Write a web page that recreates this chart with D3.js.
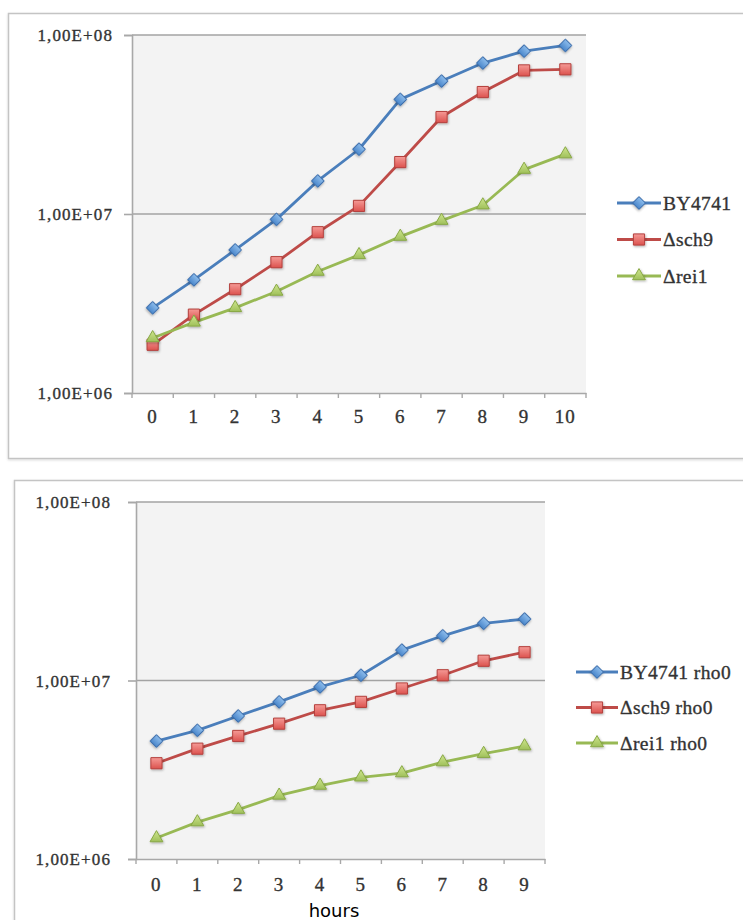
<!DOCTYPE html>
<html>
<head>
<meta charset="utf-8">
<script src="https://cdn.jsdelivr.net/npm/d3@7/dist/d3.min.js"></script>
<style>
  html, body { margin: 0; padding: 0; background: #ffffff; }
  svg { display: block; }
</style>
</head>
<body>
<svg id="chart" width="743" height="920"></svg>
<script>
// Time points (hours)
const hoursTop = ["0", "1", "2", "3", "4", "5", "6", "7", "8", "9", "10"];
const hoursBottom = ["0", "1", "2", "3", "4", "5", "6", "7", "8", "9"];

// Cell counts, wild type and deletion strains
const by4741 = [2.99e6, 4.29e6, 6.30e6, 9.33e6, 1.53e7, 2.30e7, 4.37e7, 5.53e7, 6.97e7, 8.12e7, 8.74e7];
const sch9 = [1.86e6, 2.74e6, 3.80e6, 5.38e6, 7.91e6, 1.11e7, 1.95e7, 3.48e7, 4.80e7, 6.34e7, 6.43e7];
const rei1 = [2.03e6, 2.48e6, 2.99e6, 3.69e6, 4.77e6, 5.91e6, 7.48e6, 9.18e6, 1.12e7, 1.77e7, 2.16e7];

// Cell counts, rho0 strains
const by4741Rho0 = [4.58e6, 5.26e6, 6.33e6, 7.59e6, 9.21e6, 1.07e7, 1.48e7, 1.78e7, 2.09e7, 2.21e7];
const sch9Rho0 = [3.44e6, 4.15e6, 4.89e6, 5.73e6, 6.81e6, 7.59e6, 9.02e6, 1.07e7, 1.29e7, 1.44e7];
const rei1Rho0 = [1.31e6, 1.61e6, 1.89e6, 2.27e6, 2.58e6, 2.87e6, 3.03e6, 3.49e6, 3.89e6, 4.29e6];

// Legend names
const namesTop = ["BY4741", "\u0394sch9", "\u0394rei1"];
const namesBottom = ["BY4741 rho0", "\u0394sch9 rho0", "\u0394rei1 rho0"];

// Y axis ticks
const yTickValues = [1e6, 1e7, 1e8];
const yTickLabels = ["1,00E+06", "1,00E+07", "1,00E+08"];

const xTitle = "hours";

const serif = "'Liberation Serif', 'Times New Roman', Times, serif";

// Series appearance
const styles = [
  { line: "#4a7ebb", stroke: "#3a6cab", light: "#8cbcec", dark: "#4b87cb", symbol: d3.symbolSquare, size: 80, rotate: 45, id: "blue" },
  { line: "#be4b48", stroke: "#b4403d", light: "#f59a96", dark: "#dc524e", symbol: d3.symbolSquare, size: 125, rotate: 0, id: "red" },
  { line: "#98b954", stroke: "#88a845", light: "#cfe68e", dark: "#9fc05a", symbol: d3.symbolTriangle, size: 72, rotate: 0, id: "green" }
];

const svg = d3.select("#chart");
const defs = svg.append("defs");

styles.forEach(s => {
  const g = defs.append("linearGradient")
    .attr("id", "grad-" + s.id).attr("x1", 0).attr("y1", 0).attr("x2", 0).attr("y2", 1);
  g.append("stop").attr("offset", "0%").attr("stop-color", s.light);
  g.append("stop").attr("offset", "100%").attr("stop-color", s.dark);
});

const shadow = defs.append("filter").attr("id", "shadow")
  .attr("x", "-50%").attr("y", "-50%").attr("width", "200%").attr("height", "200%");
shadow.append("feDropShadow").attr("dx", 0.8).attr("dy", 1.2).attr("stdDeviation", 1)
  .attr("flood-color", "#000").attr("flood-opacity", 0.3);

const frameShadow = defs.append("filter").attr("id", "frameShadow")
  .attr("x", "-5%").attr("y", "-5%").attr("width", "110%").attr("height", "110%");
frameShadow.append("feDropShadow").attr("dx", 0).attr("dy", 1).attr("stdDeviation", 1)
  .attr("flood-color", "#000").attr("flood-opacity", 0.15);

// serif label styling shared by ticks and legend
function serifText(sel, size, spacing) {
  sel.style("font-family", serif)
    .style("font-size", size + "px")
    .style("letter-spacing", spacing + "px")
    .style("fill", "#333333")
    .style("stroke", "#333333")
    .style("stroke-width", "0.35px");
}

function drawChart(cfg) {
  const g = svg.append("g");

  // outer chart frame
  g.append("rect")
    .attr("x", cfg.frame.x).attr("y", cfg.frame.y)
    .attr("width", cfg.frame.w).attr("height", cfg.frame.h)
    .attr("fill", "#ffffff").attr("stroke", "#c4c4c4").attr("stroke-width", 1.5)
    .attr("filter", "url(#frameShadow)");

  const x = d3.scaleBand().domain(cfg.categories).range([cfg.left, cfg.right]);
  const y = d3.scaleLog().domain([1e6, 1e8]).range([cfg.bottom, cfg.top]);

  // plot area
  g.append("rect")
    .attr("x", cfg.left).attr("y", cfg.top)
    .attr("width", cfg.right - cfg.left).attr("height", cfg.bottom - cfg.top)
    .attr("fill", "#f3f3f3");

  // horizontal gridlines
  g.append("g").selectAll("line")
    .data(yTickValues.filter(v => v > 1e6))
    .join("line")
    .attr("x1", cfg.left).attr("x2", cfg.right)
    .attr("y1", d => y(d)).attr("y2", d => y(d))
    .attr("stroke", "#a3a3a3").attr("stroke-width", 1.6);

  // y axis
  const yAxis = g.append("g")
    .attr("transform", `translate(${cfg.left},0)`)
    .call(d3.axisLeft(y).tickValues(yTickValues)
      .tickFormat((d, i) => yTickLabels[i]).tickSize(8).tickPadding(cfg.yPad));
  yAxis.select(".domain").attr("stroke", "#a8a8a8").attr("stroke-width", 1.6);
  yAxis.selectAll(".tick line").attr("stroke", "#a8a8a8").attr("stroke-width", 1.6);
  yAxis.selectAll(".tick text").attr("dy", "0.34em").call(serifText, 17, 1.1);

  // x axis: ticks between categories
  const xAxis = g.append("g")
    .attr("transform", `translate(0,${cfg.bottom})`)
    .call(d3.axisBottom(x).tickSize(0).tickPadding(cfg.xPad));
  xAxis.select(".domain").attr("stroke", "#a8a8a8").attr("stroke-width", 1.6);
  xAxis.selectAll(".tick text").call(serifText, 19, 1.2);
  const bounds = cfg.categories.map(c => x(c)).concat([x(cfg.categories[cfg.categories.length - 1]) + x.bandwidth()]);
  xAxis.append("g").selectAll("line")
    .data(bounds)
    .join("line")
    .attr("x1", d => d).attr("x2", d => d)
    .attr("y1", 0).attr("y2", 5)
    .attr("stroke", "#a8a8a8").attr("stroke-width", 1.4);

  const line = d3.line()
    .x((d, i) => x(cfg.categories[i]) + x.bandwidth() / 2)
    .y(d => y(d));

  cfg.series.forEach((vals, k) => {
    const s = styles[k];
    g.append("path")
      .datum(vals)
      .attr("fill", "none")
      .attr("stroke", s.line).attr("stroke-width", 2.8)
      .attr("stroke-linejoin", "round")
      .attr("d", line);
  });

  cfg.series.forEach((vals, k) => {
    const s = styles[k];
    g.append("g").selectAll("path")
      .data(vals)
      .join("path")
      .attr("d", d3.symbol().type(s.symbol).size(s.size))
      .attr("transform", (d, i) =>
        `translate(${x(cfg.categories[i]) + x.bandwidth() / 2},${y(d)}) rotate(${s.rotate})`)
      .attr("fill", `url(#grad-${s.id})`)
      .attr("stroke", s.stroke).attr("stroke-width", 1)
      .attr("filter", "url(#shadow)");
  });

  // legend
  const leg = g.append("g");
  cfg.names.forEach((name, k) => {
    const s = styles[k];
    const ly = cfg.legend.y + k * cfg.legend.step;
    leg.append("line")
      .attr("x1", cfg.legend.x).attr("x2", cfg.legend.x + cfg.legend.len)
      .attr("y1", ly).attr("y2", ly)
      .attr("stroke", s.line).attr("stroke-width", 2.8);
    leg.append("path")
      .attr("d", d3.symbol().type(s.symbol).size(s.size))
      .attr("transform", `translate(${cfg.legend.x + cfg.legend.len / 2},${ly}) rotate(${s.rotate})`)
      .attr("fill", `url(#grad-${s.id})`)
      .attr("stroke", s.stroke).attr("stroke-width", 1)
      .attr("filter", "url(#shadow)");
    leg.append("text")
      .attr("x", cfg.legend.x + cfg.legend.len + 2)
      .attr("y", ly)
      .attr("dy", "0.35em")
      .call(serifText, 19.5, 0.4)
      .text(name);
  });

  return { x, y };
}

drawChart({
  frame: { x: 8.5, y: 13.5, w: 760, h: 445 },
  left: 132, right: 586, top: 35, bottom: 393,
  yPad: 11, xPad: 17,
  categories: hoursTop,
  series: [by4741, sch9, rei1],
  names: namesTop,
  legend: { x: 617, len: 44, y: 203, step: 36.5 }
});

drawChart({
  frame: { x: 14.5, y: 480.5, w: 760, h: 480 },
  left: 136, right: 545, top: 502, bottom: 859,
  yPad: 17, xPad: 19,
  categories: hoursBottom,
  series: [by4741Rho0, sch9Rho0, rei1Rho0],
  names: namesBottom,
  legend: { x: 576, len: 42, y: 672, step: 35.5 }
});

// x axis title
svg.append("text")
  .attr("x", 334).attr("y", 917)
  .attr("text-anchor", "middle")
  .style("font-family", "'DejaVu Sans', Verdana, sans-serif")
  .style("font-size", "18px")
  .attr("fill", "#000")
  .text(xTitle);
</script>
</body>
</html>
